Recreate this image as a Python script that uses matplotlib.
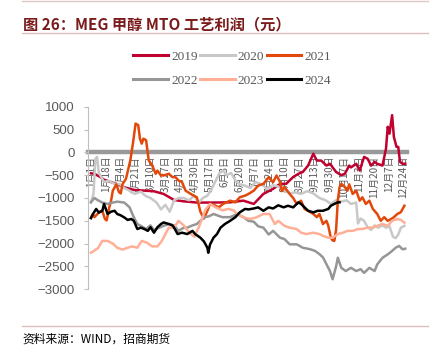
import matplotlib
matplotlib.use("Agg")
import matplotlib.pyplot as plt

plt.rcParams["font.family"] = ["Noto Sans CJK SC", "DejaVu Sans"]

# -----------------------
# Data (day of year, profit)
# -----------------------

tick_days = list(range(0, 358, 17))
tick_labels = ["1月1日", "1月18日", "2月4日", "2月21日", "3月10日", "3月27日",
               "4月13日", "4月30日", "5月17日", "6月3日", "6月20日", "7月7日",
               "7月24日", "8月10日", "8月27日", "9月13日", "9月30日", "10月17日",
               "11月3日", "11月20日", "12月7日", "12月24日"]

d2019 = [0, 4, 11, 15, 27, 38, 49, 61, 72, 83, 95, 106, 121, 140, 159, 174, 186,
         197, 208, 216, 223, 231, 237, 242, 248, 254, 258, 263, 269, 273, 280, 286,
         290, 295, 297, 303, 307, 312, 316, 320, 324, 327, 333, 337, 339, 341, 344,
         346, 349, 351, 353, 356, 359]
v2019 = [-460, -470, -545, -600, -676, -765, -823, -838, -853, -911, -1044, -1073,
         -1100, -1100, -1095, -1058, -1130, -910, -800, -690, -690, -540, -470, -430,
         -290, -30, -180, -180, -290, -250, -430, -500, -470, -290, -330, -250, -400,
         -100, -140, -290, -210, -250, -290, 80, 560, 410, 815, 340, 120, 120, -210,
         -250, -250]

d2020 = [0, 3, 5, 7, 9, 12, 15, 20, 27, 33, 38, 45, 50, 57, 62, 68, 75, 80, 85, 90,
         95, 100, 106, 112, 118, 123, 128, 133, 138, 143, 147, 151, 155, 160, 165,
         170, 176, 182, 188, 195, 201, 208, 214, 220, 227, 233, 240, 247, 254, 261,
         268, 274, 280, 286, 292, 297, 303, 305, 308, 312, 316, 320, 324, 328, 333,
         337, 341, 345, 348, 351, 354, 358]
v2020 = [-1100, -900, -150, -100, -450, -550, -650, -620, -690, -700, -780, -850,
         -910, -860, -950, -1000, -1100, -1250, -1150, -1300, -1050, -1000, -1000,
         -1050, -950, -1100, -1000, -950, -800, -600, -450, -400, -500, -450, -620,
         -700, -730, -780, -650, -700, -800, -720, -750, -820, -900, -880, -910,
         -850, -900, -1000, -1050, -1130, -1050, -1080, -1050, -1130, -1100, -1560,
         -1450, -1500, -1640, -1700, -1600, -1650, -1600, -1650, -1620, -1850, -1880,
         -1800, -1650, -1610]

d2021 = [0, 2, 4, 6, 10, 13, 16, 18, 21, 23, 25, 29, 32, 34, 36, 40, 45, 48, 51, 54,
         56, 58, 60, 63, 66, 70, 74, 76, 80, 83, 89, 93, 97, 100, 104, 108, 114, 121,
         125, 129, 133, 136, 140, 146, 151, 159, 165, 170, 176, 180, 186, 191, 197,
         203, 208, 212, 216, 218, 221, 227, 231, 235, 240, 244, 248, 254, 258, 261,
         265, 269, 271, 274, 276, 278, 280, 282, 284, 286, 290, 293, 295, 299, 303,
         307, 310, 314, 318, 322, 327, 331, 335, 339, 343, 346, 350, 354, 358]
v2021 = [-1440, -1350, -1420, -1380, -1300, -1280, -1460, -1490, -1200, -1060, -840,
         -700, -870, -900, -700, -580, -175, 200, 630, 595, 300, 190, 300, 265, -175,
         -290, -470, -400, -507, -507, -470, -540, -550, -617, -650, -838, -911, -985,
         -1300, -1450, -1280, -1130, -1150, -1205, -1130, -1058, -1095, -985, -948,
         -911, -838, -728, -690, -544, -654, -507, -650, -850, -760, -911, -1000,
         -1130, -1060, -1240, -1280, -1350, -1420, -1350, -1570, -1500, -1600, -1870,
         -1930, -1940, -1700, -1050, -760, -690, -760, -840, -700, -911, -840, -1058,
         -985, -1130, -1058, -1240, -1350, -1500, -1420, -1500, -1460, -1420, -1350,
         -1310, -1170]

d2022 = [0, 4, 8, 13, 19, 25, 30, 38, 44, 49, 53, 58, 63, 68, 72, 78, 83, 89, 95,
         100, 106, 110, 116, 121, 129, 135, 140, 150, 159, 167, 174, 180, 186, 191,
         197, 203, 208, 216, 221, 227, 235, 242, 250, 256, 261, 265, 269, 273, 276,
         280, 282, 286, 291, 297, 303, 308, 312, 318, 324, 327, 333, 339, 344, 348,
         352, 356, 359]
v2022 = [-1090, -1000, -1050, -1100, -1130, -1100, -1080, -1100, -1200, -1425,
         -1570, -1620, -1680, -1600, -1700, -1650, -1610, -1570, -1600, -1720, -1650,
         -1650, -1600, -1570, -1425, -1400, -1350, -1420, -1420, -1350, -1420, -1500,
         -1520, -1620, -1650, -1800, -1720, -1870, -1900, -2015, -2015, -2090, -2120,
         -2160, -2230, -2300, -2450, -2600, -2780, -2500, -2310, -2530, -2600, -2530,
         -2600, -2560, -2640, -2530, -2600, -2455, -2310, -2235, -2160, -2090, -2050,
         -2125, -2110]

d2023 = [0, 4, 8, 13, 19, 25, 30, 36, 42, 47, 53, 58, 64, 70, 76, 81, 85, 89, 95,
         100, 106, 112, 118, 123, 127, 131, 136, 142, 150, 157, 163, 167, 174, 182,
         189, 197, 204, 210, 214, 221, 227, 235, 240, 246, 254, 261, 265, 271, 276,
         282, 288, 293, 299, 305, 310, 316, 322, 327, 333, 339, 344, 350, 354, 358]
v2023 = [-2200, -2150, -2100, -1940, -1940, -2000, -2090, -2130, -2090, -2060, -2090,
         -1940, -1980, -2060, -2060, -1940, -1790, -1650, -1650, -1500, -1600, -1750,
         -1850, -1650, -1450, -1250, -1130, -1200, -1270, -1240, -1270, -1350, -1425,
         -1460, -1425, -1350, -1350, -1570, -1500, -1610, -1650, -1680, -1760, -1790,
         -1760, -1790, -1830, -1870, -1870, -1790, -1760, -1720, -1720, -1680, -1680,
         -1650, -1650, -1610, -1570, -1610, -1500, -1460, -1480, -1540]

d2024 = [0, 3, 6, 9, 13, 15, 19, 23, 27, 30, 34, 38, 42, 46, 49, 53, 57, 61, 65, 68,
         72, 76, 80, 83, 89, 93, 95, 99, 104, 110, 116, 119, 125, 129, 133, 134, 136,
         140, 144, 148, 153, 159, 165, 170, 176, 180, 186, 191, 197, 203, 208, 214,
         220, 225, 231, 237, 240, 244, 248, 254, 259, 265, 271, 274, 278, 282, 284]
v2024 = [-1440, -1330, -1240, -1320, -1280, -1130, -1350, -1300, -1280, -1350, -1380,
         -1425, -1480, -1460, -1500, -1680, -1650, -1680, -1720, -1640, -1760, -1640,
         -1570, -1535, -1570, -1600, -1650, -1790, -1760, -1790, -1720, -1790, -1870,
         -1950, -2090, -2200, -2020, -1870, -1790, -1650, -1570, -1500, -1420, -1315,
         -1240, -1250, -1230, -1205, -1280, -1205, -1230, -1160, -1205, -1170, -1205,
         -1095, -1130, -1205, -1280, -1315, -1280, -1280, -1240, -1170, -1130, -1095,
         -1095]

series = [
    ("2019", d2019, v2019, "#C0002F"),
    ("2020", d2020, v2020, "#C8C8C8"),
    ("2021", d2021, v2021, "#E2480A"),
    ("2022", d2022, v2022, "#969696"),
    ("2023", d2023, v2023, "#FFAF96"),
    ("2024", d2024, v2024, "#000000"),
]

# -----------------------
# Figure
# -----------------------

fig = plt.figure(figsize=(4.4, 3.54), dpi=100)
ax = fig.add_axes([0.2007, 0.1828, 0.7243, 0.5158])

handles = {}
for name, d, v, c in series:
    line, = ax.plot(d, v, color=c, linewidth=1.8, label=name, zorder=3)
    handles[name] = line

ax.set_ylim(-3000, 1000)
ax.set_xlim(-3, 361)
ax.set_yticks(range(-3000, 1001, 500))

ax.spines["top"].set_visible(False)
ax.spines["right"].set_visible(False)
ax.spines["left"].set_color("#BFBFBF")
ax.spines["bottom"].set_position(("data", 0))
ax.spines["bottom"].set_color("#999999")
ax.spines["bottom"].set_linewidth(3.2)
ax.spines["bottom"].set_zorder(1)

ax.set_xticks(tick_days)
ax.set_xticklabels(tick_labels, rotation=90, fontsize=7.2, color="#595959")
ax.tick_params(axis="x", length=0, pad=2.5)
ax.tick_params(axis="y", length=3, color="#BFBFBF", labelsize=9.5,
               labelcolor="#595959", pad=7)
for lab in ax.get_yticklabels():
    lab.set_fontfamily("Liberation Sans")

# legend in rows: 2019 2020 2021 / 2022 2023 2024
order = ["2019", "2022", "2020", "2023", "2021", "2024"]
leg = fig.legend([handles[k] for k in order], order, ncol=3, frameon=False,
                 loc="center", bbox_to_anchor=(0.528, 0.806),
                 handlelength=2.6, handletextpad=0.25, columnspacing=0.2,
                 labelspacing=0.85,
                 prop={"family": "Liberation Serif", "size": 9.5})
for t in leg.get_texts():
    t.set_color("#595959")
for h in leg.get_lines():
    h.set_linewidth(2.2)

# -----------------------
# Title / source
# -----------------------

fig.text(0.052, 0.932, "图 26：MEG 甲醇 MTO 工艺利润（元）", fontsize=11,
         fontweight="bold", color="#7B1A1A", va="center", ha="left")
fig.add_artist(plt.Line2D([0.05, 0.973], [0.906, 0.906], color="#E2BDBD", lw=1))
fig.add_artist(plt.Line2D([0.05, 0.973], [0.997, 0.997], color="#E2C7C7", lw=1))
fig.add_artist(plt.Line2D([0.05, 0.973], [0.079, 0.079], color="#E2BDBD", lw=1))
fig.text(0.052, 0.042, "资料来源：WIND，招商期货", fontsize=8.5, color="#000000",
         va="center", ha="left")

fig.savefig("out.png", dpi=100)
